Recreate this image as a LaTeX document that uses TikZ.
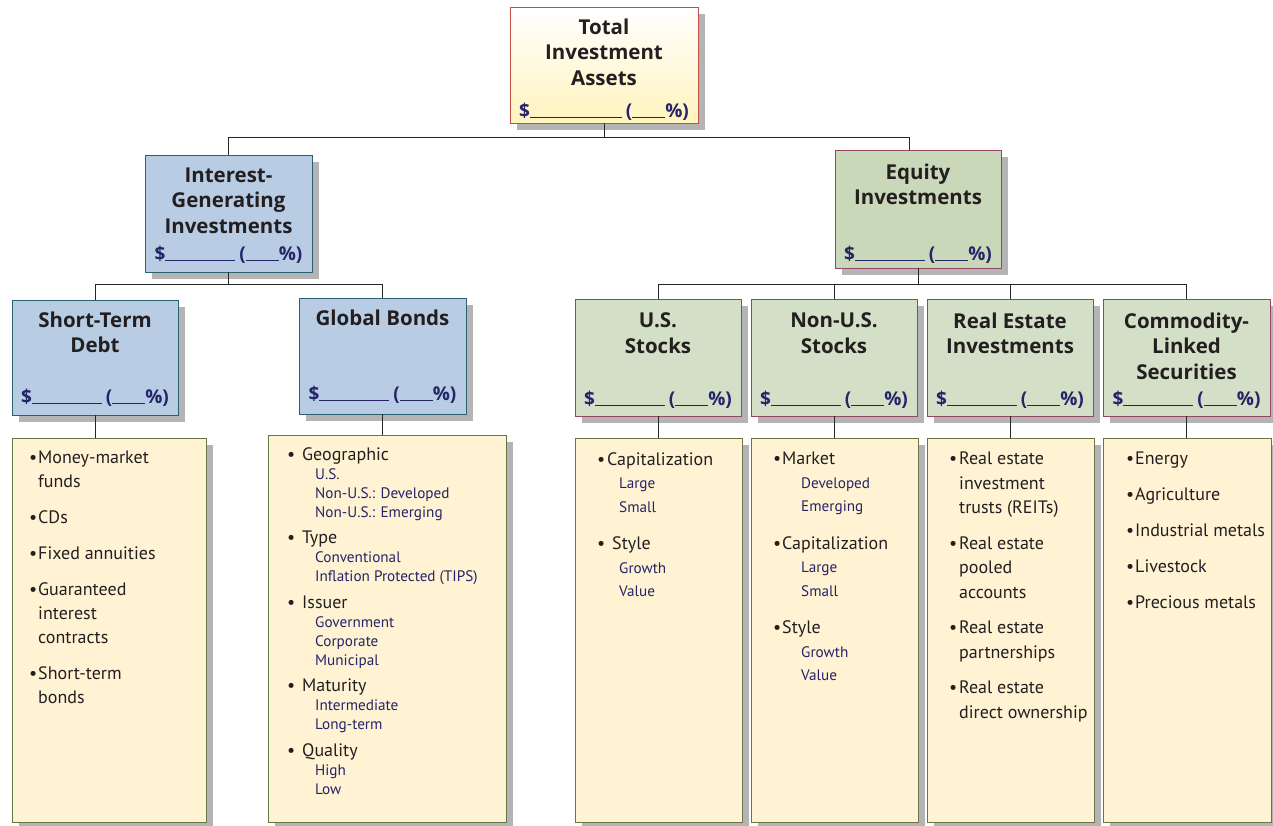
\documentclass[tikz,border=0pt]{standalone}
\usepackage{fontspec}
\setmainfont{PT Sans}
\newfontfamily\hdfont{Open Sans}
\usetikzlibrary{positioning,shadows}

\definecolor{navytxt}{RGB}{36,36,104}
\definecolor{inktxt}{RGB}{35,31,32}
\definecolor{bluefill}{RGB}{184,204,228}
\definecolor{blueedge}{RGB}{45,95,115}
\definecolor{greenfill}{RGB}{211,223,198}
\definecolor{eqfill}{RGB}{202,216,186}
\definecolor{greenedge}{RGB}{150,70,100}
\definecolor{listfill}{RGB}{255,243,212}
\definecolor{listedge}{RGB}{100,120,70}
\definecolor{totedge}{RGB}{190,80,70}
\definecolor{totfill}{RGB}{255,243,190}
\definecolor{shadowgray}{RGB}{180,180,180}

\newcommand{\amt}[2]{\$\rule[-1pt]{#1}{1.6pt}\hspace{4pt}(\rule[-1pt]{#2}{1.6pt}\%)}
\newcommand{\bul}[1][9pt]{\makebox[#1][l]{\textbullet}}
\newcommand{\hang}{\hspace*{9pt}}
\newcommand{\sub}[2][28pt]{\hspace*{#1}{\fontsize{15.2}{19}\selectfont\color{navytxt}#2}}

\tikzset{
  hdrbox/.style={draw, line width=0.8pt, inner sep=0pt,
    drop shadow={shadow xshift=7pt, shadow yshift=-7pt, fill=shadowgray, opacity=1}},
  totbox/.style={hdrbox, draw=totedge, top color=white, bottom color=totfill},
  bluebox/.style={hdrbox, draw=blueedge, fill=bluefill},
  greenbox/.style={hdrbox, draw=greenedge, fill=greenfill},
  listbox/.style={hdrbox, draw=listedge, fill=listfill, line width=0.6pt},
  ttl/.style={font=\hdfont\fontsize{20.5}{25.5}\selectfont\bfseries, text=inktxt, align=center, inner sep=0pt},
  amtxt/.style={font=\hdfont\fontsize{19}{22}\selectfont\bfseries, text=navytxt, inner sep=0pt},
  items/.style={anchor=north west, align=left, inner sep=0pt, text=inktxt,
    font=\fontsize{18}{#1}\selectfont},
  link/.style={draw=black!85, line width=0.8pt}
}

\begin{document}
\begin{tikzpicture}[x=1pt,y=-1pt]
  \fill[white] (0,0) rectangle (1273,826);
  \useasboundingbox (0,0) rectangle (1273,826);

  % top of the tree
  \node[totbox, minimum width=188pt, minimum height=116pt] (total) at (604,65) {};
  \node[ttl, below=12pt of total.north] (totalT) {Total\\Investment\\Assets};
  \node[amtxt, above=3pt of total.south] (totalA) {\amt{92pt}{33pt}};

  % second level
  \node[bluebox, minimum width=167pt, minimum height=117pt] (intgen) at (228.5,213.5) {};
  \node[ttl, below=13pt of intgen.north] (intgenT) {Interest-\\Generating\\Investments};
  \node[amtxt, above=9pt of intgen.south] (intgenA) {\amt{70pt}{33pt}};

  \node[greenbox, fill=eqfill, minimum width=166pt, minimum height=118pt] (equity) at (918,209) {};
  \node[ttl, below=14pt of equity.north] (equityT) {Equity\\Investments};
  \node[amtxt, above=5pt of equity.south] (equityA) {\amt{70pt}{33pt}};

  % third level
  \node[bluebox, minimum width=166pt, minimum height=115pt] (stdebt) at (95,357.5) {};
  \node[ttl, below=12pt of stdebt.north] (stdebtT) {Short-Term\\Debt};
  \node[amtxt, above=9pt of stdebt.south] (stdebtA) {\amt{70pt}{33pt}};

  \node[bluebox, minimum width=167pt, minimum height=116pt] (gbonds) at (382.5,356) {};
  \node[ttl, below=12pt of gbonds.north] (gbondsT) {Global Bonds};
  \node[amtxt, above=11pt of gbonds.south] (gbondsA) {\amt{70pt}{33pt}};

  \node[greenbox, minimum width=166pt, minimum height=117pt] (usstk) at (658,357.5) {};
  \node[ttl, below=14pt of usstk.north] (usstkT) {U.S.\\Stocks};
  \node[amtxt, above=8pt of usstk.south] (usstkA) {\amt{70pt}{33pt}};

  \node[greenbox, minimum width=166pt, minimum height=117pt] (nonus) at (834,357.5) {};
  \node[ttl, below=14pt of nonus.north] (nonusT) {Non-U.S.\\Stocks};
  \node[amtxt, above=8pt of nonus.south] (nonusA) {\amt{70pt}{33pt}};

  \node[greenbox, minimum width=166pt, minimum height=117pt] (realest) at (1010,357.5) {};
  \node[ttl, below=14pt of realest.north] (realestT) {Real Estate\\Investments};
  \node[amtxt, above=8pt of realest.south] (realestA) {\amt{70pt}{33pt}};

  \node[greenbox, minimum width=167pt, minimum height=117pt] (commod) at (1186.5,357.5) {};
  \node[ttl, below=14pt of commod.north] (commodT) {Commodity-\\Linked\\Securities};
  \node[amtxt, above=8pt of commod.south] (commodA) {\amt{70pt}{33pt}};

  % lists
  \node[listbox, minimum width=194pt, minimum height=384pt] (stdebtL) at (109,630) {};
  \node[listbox, minimum width=238pt, minimum height=387pt] (gbondsL) at (387,628.5) {};
  \node[listbox, minimum width=167pt, minimum height=384pt] (usstkL) at (658.5,630) {};
  \node[listbox, minimum width=167pt, minimum height=384pt] (nonusL) at (834.5,630) {};
  \node[listbox, minimum width=167pt, minimum height=384pt] (realestL) at (1010.5,630) {};
  \node[listbox, minimum width=168pt, minimum height=384pt] (commodL) at (1187,630) {};

  \node[items=24pt] (stdebtI) at (29,451) {%
    \bul Money-market\\ \hang funds\\[12pt]
    \bul CDs\\[12pt]
    \bul Fixed annuities\\[12pt]
    \bul Guaranteed\\ \hang interest\\ \hang contracts\\[12pt]
    \bul Short-term\\ \hang bonds};
  \node[items=19pt] (gbondsI) at (287,447) {%
    \bul[15pt]Geographic\\ \sub{U.S.}\\ \sub{Non-U.S.: Developed}\\ \sub{Non-U.S.: Emerging}\\[7.5pt]
    \bul[15pt]Type\\ \sub{Conventional}\\ \sub{Inflation Protected (TIPS)}\\[7.5pt]
    \bul[15pt]Issuer\\ \sub{Government}\\ \sub{Corporate}\\ \sub{Municipal}\\[7.5pt]
    \bul[15pt]Maturity\\ \sub{Intermediate}\\ \sub{Long-term}\\[7.5pt]
    \bul[15pt]Quality\\ \sub{High}\\ \sub{Low}};
  \node[items=23.5pt] (usstkI) at (597,452) {%
    \bul[10pt]Capitalization\\ \sub[22pt]{Large}\\ \sub[22pt]{Small}\\[14pt]
    \bul[15pt]Style\\ \sub[22pt]{Growth}\\ \sub[22pt]{Value}};
  \node[items=23.5pt] (nonusI) at (773,452) {%
    \bul Market\\ \sub{Developed}\\ \sub{Emerging}\\[14pt]
    \bul Capitalization\\ \sub{Large}\\ \sub{Small}\\[14pt]
    \bul Style\\ \sub{Growth}\\ \sub{Value}};
  \node[items=24.5pt] (realestI) at (949,452) {%
    \bul[10pt]Real estate\\ \hang\hspace*{1pt}investment\\ \hang\hspace*{1pt}trusts (REITs)\\[11pt]
    \bul[10pt]Real estate\\ \hang\hspace*{1pt}pooled\\ \hang\hspace*{1pt}accounts\\[11pt]
    \bul[10pt]Real estate\\ \hang\hspace*{1pt}partnerships\\[11pt]
    \bul[10pt]Real estate\\ \hang\hspace*{1pt}direct ownership};
  \node[items=24pt] (commodI) at (1126,452) {%
    \bul Energy\\[12pt] \bul Agriculture\\[12pt] \bul Industrial metals\\[12pt]
    \bul Livestock\\[12pt] \bul Precious metals};

  % connectors
  \coordinate (tbar) at ([yshift=-14pt]total.south);
  \coordinate (ibar) at ([yshift=-12pt]intgen.south);
  \coordinate (ebar) at ([yshift=-16pt]equity.south);
  \draw[link] (total.south) -- (tbar);
  \draw[link] (intgen.north) |- (tbar) -| ([xshift=-9pt]equity.north);
  \draw[link] (intgen.south) -- (ibar);
  \draw[link] (stdebt.north) |- (ibar) -| (gbonds.north);
  \draw[link] (equity.south) -- (ebar);
  \draw[link] (usstk.north) |- (ebar) -| (commod.north);
  \draw[link] (nonus.north) -- (nonus.north |- ebar);
  \draw[link] (realest.north) -- (realest.north |- ebar);
  \foreach \b in {stdebt,gbonds,usstk,nonus,realest,commod}
    \draw[link] (\b.south) -- (\b.south |- \b L.north);
\end{tikzpicture}
\end{document}
